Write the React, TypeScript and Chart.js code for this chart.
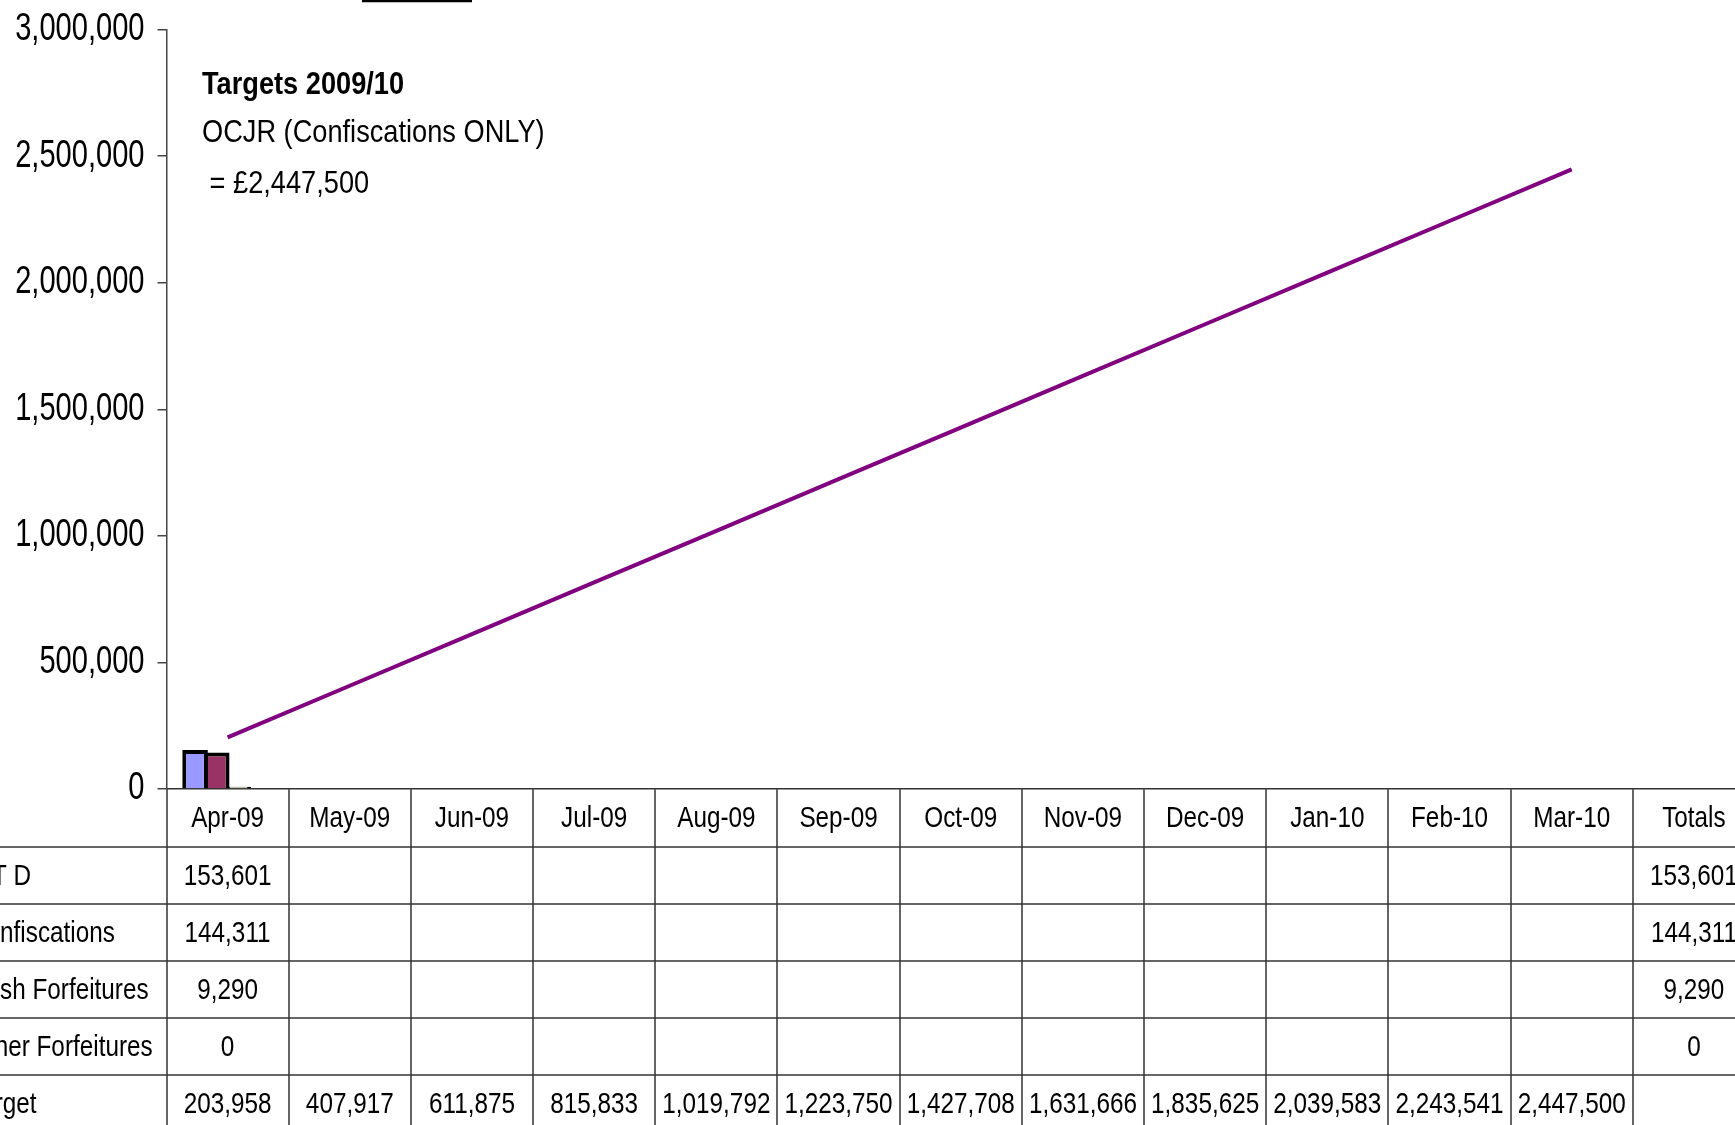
import React, { useEffect, useRef } from "react";
import Chart from "chart.js/auto";

// ---- data ----
const months = ["Apr-09", "May-09", "Jun-09", "Jul-09", "Aug-09", "Sep-09", "Oct-09", "Nov-09", "Dec-09", "Jan-10", "Feb-10", "Mar-10"];
const totalsLabel = "Totals";
const categories = [...months, totalsLabel];
const seriesNames = ["Y T D", "Confiscations", "Cash Forfeitures", "Other Forfeitures", "Target"];
const ytd: (number | null)[] = [153601, null, null, null, null, null, null, null, null, null, null, null];
const confiscations: (number | null)[] = [144311, null, null, null, null, null, null, null, null, null, null, null];
const cashForfeitures: (number | null)[] = [9290, null, null, null, null, null, null, null, null, null, null, null];
const otherForfeitures: (number | null)[] = [0, null, null, null, null, null, null, null, null, null, null, null];
const target: (number | null)[] = [203958, 407917, 611875, 815833, 1019792, 1223750, 1427708, 1631666, 1835625, 2039583, 2243541, 2447500];
const totals: (number | null)[] = [153601, 144311, 9290, 0, null];
const yTicks = [0, 500000, 1000000, 1500000, 2000000, 2500000, 3000000];
const noteTitle = "Targets 2009/10";
const noteLine1 = "OCJR (Confiscations ONLY)";
const noteLine2 = " = £2,447,500";

// ---- layout ----
const OX = 80; // canvas starts left of the page (clipped)
const CW = 1840;
const CH = 1125;
const FONT = "'Liberation Sans', Arial, sans-serif";
const TICK_SIZE = 38;
const TABLE_SIZE = 30;
const NOTE_SIZE = 32;
const AXIS_TOP = 29.5;
const AXIS_Y = 789;
const HEADER_H = 58;
const ROW_H = 57;

// horizontal condensing per font size (emulates a narrow face)
const condense = (size: number) => (size >= 37 ? 0.765 : size >= 31 ? 0.85 : 0.81);

const fmt = (v: number | null) => (v === null || v === undefined ? "" : v.toLocaleString("en-US"));

const narrowTextPlugin = {
  id: "narrowText",
  beforeInit(chart: any) {
    const ctx = chart.ctx as any;
    if (ctx.__narrow) return;
    ctx.__narrow = true;
    const orig = ctx.fillText;
    ctx.fillText = function (text: string, x: number, y: number) {
      const m = /(\d+(?:\.\d+)?)px/.exec(this.font);
      const size = m ? parseFloat(m[1]) : 12;
      const sx = condense(size);
      this.save();
      this.translate(x, y);
      this.scale(sx, 1);
      orig.call(this, text, 0, 0);
      this.restore();
    };
  },
};

const tablePlugin = {
  id: "dataTable",
  afterDraw(chart: any) {
    const ctx = chart.ctx as CanvasRenderingContext2D;
    const xs = chart.scales.x;
    const area = chart.chartArea;
    const colW = (xs.right - xs.left) / categories.length;
    const top = area.bottom;
    ctx.save();
    // grid lines
    ctx.strokeStyle = "#555555";
    ctx.lineWidth = 1.8;
    for (let i = 0; i <= categories.length; i++) {
      const x = Math.round(xs.left + i * colW);
      ctx.beginPath();
      ctx.moveTo(x, top);
      ctx.lineTo(x, CH);
      ctx.stroke();
    }
    const rows = [ytd, confiscations, cashForfeitures, otherForfeitures, target];
    ctx.strokeStyle = "#333333";
    ctx.lineWidth = 1.6;
    for (let k = 0; k < rows.length; k++) {
      const y = Math.round(top + HEADER_H + k * ROW_H);
      ctx.beginPath();
      ctx.moveTo(0, y);
      ctx.lineTo(CW, y);
      ctx.stroke();
    }
    // row labels and values
    ctx.fillStyle = "#000";
    ctx.textBaseline = "middle";
    ctx.font = `${TABLE_SIZE}px ${FONT}`;
    for (let k = 0; k < rows.length; k++) {
      const yc = top + HEADER_H + k * ROW_H + ROW_H / 2 + 1;
      ctx.textAlign = "left";
      ctx.fillText(seriesNames[k], OX - 31, yc);
      ctx.textAlign = "center";
      const r = rows[k];
      for (let i = 0; i < months.length; i++) {
        const s = fmt(r[i]);
        if (s) ctx.fillText(s, xs.left + (i + 0.5) * colW, yc);
      }
      const t = fmt(totals[k]);
      if (t) ctx.fillText(t, xs.left + (months.length + 0.5) * colW, yc);
    }
    // annotation
    ctx.textAlign = "left";
    ctx.textBaseline = "alphabetic";
    ctx.font = `bold ${NOTE_SIZE}px ${FONT}`;
    ctx.fillText(noteTitle, OX + 202, 94);
    ctx.font = `${NOTE_SIZE}px ${FONT}`;
    ctx.fillText(noteLine1, OX + 202, 142);
    ctx.fillText(noteLine2, OX + 202, 193);
    // fragment of box border at top
    ctx.strokeStyle = "#000";
    ctx.lineWidth = 2.5;
    ctx.beginPath();
    ctx.moveTo(OX + 362, 1);
    ctx.lineTo(OX + 472, 1);
    ctx.stroke();
    ctx.restore();
  },
};

export default function App() {
  const ref = useRef<HTMLCanvasElement | null>(null);
  useEffect(() => {
    if (!ref.current) return;
    const barCommon = {
      type: "bar" as const,
      borderColor: "#000000",
      borderWidth: 4,
      borderSkipped: "start" as const,
      categoryPercentage: 0.71,
      barPercentage: 1.18,
      order: 1,
    };
    const chart = new Chart(ref.current, {
      type: "bar",
      data: {
        labels: categories,
        datasets: [
          { ...barCommon, label: seriesNames[0], data: ytd, backgroundColor: "#9999FF" },
          { ...barCommon, label: seriesNames[1], data: confiscations, backgroundColor: "#993366" },
          { ...barCommon, label: seriesNames[2], data: cashForfeitures, backgroundColor: "#FFFFCC" },
          { ...barCommon, label: seriesNames[3], data: otherForfeitures, backgroundColor: "#CCFFFF" },
          {
            type: "line" as const,
            label: seriesNames[4],
            data: target,
            borderColor: "#800080",
            borderWidth: 4,
            pointRadius: 0,
            tension: 0,
            order: 0,
          } as any,
        ],
      },
      options: {
        responsive: false,
        animation: false,
        devicePixelRatio: 1,
        layout: { padding: { top: AXIS_TOP, right: 5, bottom: 0, left: 0 } },
        plugins: { legend: { display: false }, tooltip: { enabled: false }, title: { display: false } },
        scales: {
          x: {
            type: "category",
            offset: true,
            grid: { display: false, drawTicks: false },
            border: { display: true, color: "#333333", width: 1.6 },
            ticks: {
              color: "#000",
              font: { family: FONT, size: TABLE_SIZE },
              padding: 12,
              maxRotation: 0,
              autoSkip: false,
            },
            afterFit: (s: any) => {
              s.height = CH - AXIS_Y;
              s.paddingLeft = 0;
              s.paddingRight = 0;
            },
          },
          y: {
            min: 0,
            max: 3000000,
            afterBuildTicks: (s: any) => {
              s.ticks = yTicks.map((v) => ({ value: v }));
            },
            grid: { drawOnChartArea: false, drawTicks: true, tickLength: 9, color: "#444444", lineWidth: 1.5 },
            border: { display: true, color: "#444444", width: 1.5 },
            ticks: {
              color: "#000",
              font: { family: FONT, size: TICK_SIZE },
              padding: 13,
              callback: (v: any) => Number(v).toLocaleString("en-US"),
            },
            afterFit: (s: any) => {
              s.width = OX + 166.5;
              s.paddingTop = 0;
              s.paddingBottom = 0;
            },
          },
        },
      },
      plugins: [narrowTextPlugin, tablePlugin],
    } as any);
    return () => chart.destroy();
  }, []);
  return (
    <div style={{ position: "absolute", left: 0, top: 0, width: 1735, height: CH, overflow: "hidden", background: "#fff" }}>
      <canvas ref={ref} width={CW} height={CH} style={{ position: "absolute", left: -OX, top: 0, width: CW, height: CH }} />
    </div>
  );
}
